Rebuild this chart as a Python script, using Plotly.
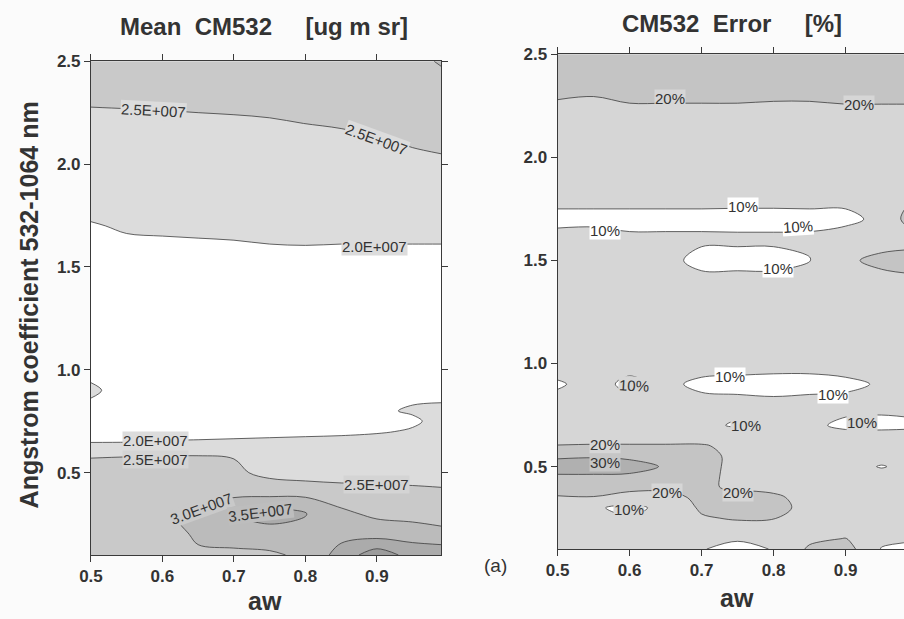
import numpy as np
import plotly.graph_objects as go

# ---------------- data: Mean CM532 [ug m sr] (values in units of 1E+007) ----------------
AW_MEAN = [0.50, 0.55, 0.60, 0.65, 0.70, 0.75, 0.80, 0.85, 0.90, 0.95, 0.99]
ALPHA_MEAN = [0.10, 0.20, 0.30, 0.40, 0.50, 0.60, 0.65, 0.70, 0.75, 0.80, 0.90, 1.00,
              1.25, 1.50, 1.60, 1.70, 1.80, 2.00, 2.10, 2.20, 2.30, 2.40, 2.50]
# one list per aw column, ordered by ALPHA_MEAN
mean_e7_cols = [
    [2.70, 2.72, 2.74, 2.70, 2.62, 2.45, 1.97, 1.90, 1.88, 1.95, 2.03, 1.95, 1.85, 1.90, 1.95, 1.98, 2.08, 2.25, 2.33, 2.40, 2.53, 2.60, 2.66],
    [2.72, 2.75, 2.80, 2.75, 2.63, 2.46, 1.98, 1.90, 1.88, 1.90, 1.93, 1.90, 1.85, 1.90, 1.95, 2.03, 2.10, 2.26, 2.34, 2.41, 2.54, 2.61, 2.67],
    [2.75, 2.85, 2.95, 2.82, 2.64, 2.46, 2.01, 1.92, 1.88, 1.90, 1.90, 1.90, 1.85, 1.91, 1.96, 2.04, 2.11, 2.27, 2.35, 2.42, 2.55, 2.62, 2.68],
    [2.95, 3.05, 3.10, 2.85, 2.64, 2.47, 2.02, 1.92, 1.88, 1.90, 1.90, 1.90, 1.85, 1.91, 1.96, 2.06, 2.12, 2.28, 2.36, 2.43, 2.57, 2.63, 2.69],
    [2.90, 3.20, 3.52, 2.86, 2.60, 2.45, 2.03, 1.93, 1.88, 1.90, 1.90, 1.90, 1.86, 1.92, 1.97, 2.07, 2.13, 2.29, 2.37, 2.44, 2.59, 2.65, 2.70],
    [2.92, 3.30, 3.70, 2.86, 2.36, 2.30, 2.04, 1.94, 1.89, 1.90, 1.90, 1.90, 1.86, 1.93, 1.99, 2.08, 2.14, 2.30, 2.38, 2.46, 2.62, 2.67, 2.72],
    [3.10, 3.30, 3.53, 2.87, 2.25, 2.28, 2.05, 1.95, 1.90, 1.90, 1.90, 1.90, 1.86, 1.93, 1.995, 2.10, 2.16, 2.32, 2.40, 2.505, 2.64, 2.70, 2.75],
    [3.70, 3.35, 3.10, 2.75, 2.25, 2.28, 2.06, 1.96, 1.90, 1.92, 1.90, 1.90, 1.86, 1.93, 1.99, 2.08, 2.16, 2.34, 2.42, 2.53, 2.66, 2.72, 2.78],
    [4.30, 3.30, 2.90, 2.70, 2.25, 2.28, 2.08, 1.98, 1.92, 1.97, 1.90, 1.90, 1.86, 1.93, 1.99, 2.08, 2.17, 2.37, 2.46, 2.58, 2.68, 2.75, 2.82],
    [3.80, 3.30, 2.80, 2.65, 2.25, 2.28, 2.10, 2.02, 1.97, 2.02, 1.95, 1.90, 1.86, 1.93, 1.99, 2.08, 2.18, 2.42, 2.52, 2.60, 2.70, 2.78, 2.85],
    [3.80, 3.20, 2.70, 2.60, 2.25, 2.28, 2.12, 2.10, 2.06, 2.04, 1.94, 1.90, 1.86, 1.93, 1.99, 2.08, 2.20, 2.45, 2.55, 2.63, 2.73, 2.85, 3.05],
]
MEAN_LEVELS = dict(start=2.0e7, end=4.0e7, size=0.5e7)

# ---------------- data: CM532 Error [%] ----------------
AW_ERR = [0.50, 0.55, 0.60, 0.65, 0.70, 0.75, 0.80, 0.85, 0.90, 0.95, 1.00]
ALPHA_ERR = [0.10, 0.15, 0.20, 0.25, 0.30, 0.35, 0.40, 0.45, 0.50, 0.55, 0.60, 0.65, 0.70,
             0.80, 0.90, 1.00, 1.15, 1.30, 1.40, 1.50, 1.60, 1.70, 1.80, 1.90,
             2.10, 2.20, 2.30, 2.40, 2.50]
err_cols = [
    [13, 13, 13, 12, 11, 19, 25, 29, 33, 29, 20.5, 15, 13, 13, 9, 14, 14, 14, 14, 14, 12, 8.5, 11.5, 13, 16, 18, 20.5, 22, 23],
    [13, 13, 13, 12, 11, 19.5, 25, 29, 33, 29.5, 21, 15, 13, 13, 13, 14, 14, 14, 14, 14, 12.5, 8.5, 11.5, 13, 16, 18, 20.1, 22, 23],
    [13, 12.5, 12, 10.5, 8, 16, 23, 29, 32, 29, 21, 15, 13, 13, 8, 13, 14, 14, 14, 13, 11, 8.5, 11.5, 13, 16, 18.3, 21, 22, 23],
    [13, 13, 13, 13, 12, 17, 22, 26, 29.5, 27, 21, 15, 13, 13, 12, 14, 14, 14, 14, 12, 11, 8.5, 11.5, 13, 16, 18.3, 21, 22, 23],
    [10.5, 12, 15, 19, 21.5, 22, 21, 24, 26, 25, 21, 15, 12, 13, 8, 14, 14, 14, 12, 8, 11, 8.5, 11.5, 13, 16, 18.3, 21, 22, 23],
    [7, 11, 16, 21, 24, 23, 19, 16, 15, 16, 17, 15, 9, 13, 7, 14, 14, 14, 12, 8, 11, 8.3, 11.5, 13, 16, 18.3, 21, 22, 23],
    [10.5, 12, 15, 20.5, 23, 22, 17, 15, 14, 14, 14, 13.5, 12, 12, 7, 13, 14, 14, 12, 8, 11, 8.3, 11.5, 13, 16, 18.2, 20.7, 22, 23],
    [21.5, 18, 15, 15, 17, 16, 14, 14, 14, 14, 14, 13.5, 12, 13, 7, 13, 14, 14, 13, 9.8, 11, 8.5, 11.5, 13, 16, 18.2, 20.7, 22, 23],
    [24, 20.3, 16, 14, 14, 14, 14, 14, 13, 14, 14, 13, 8, 13, 8, 14, 14, 14, 16, 18, 12, 9, 11, 13, 16, 18.6, 21, 22, 23],
    [9.5, 12, 13, 14, 14, 14, 14, 13, 9.5, 13, 14, 12.5, 8, 12, 11, 14, 14, 14, 16, 23, 15, 11, 12, 13, 16, 18.6, 21, 22, 23],
    [7, 11, 13, 14, 14, 14, 14, 13, 13, 14, 14, 12, 9, 12, 13, 14, 14, 14, 17, 26, 15, 28, 21, 13, 16, 18.6, 21, 22, 23],
]
ERR_LEVELS = dict(start=10, end=30, size=10)

XTICKS = [0.5, 0.6, 0.7, 0.8, 0.9]
YTICKS = [0.5, 1.0, 1.5, 2.0, 2.5]

# contour labels (text, aw, alpha, angle, background)
MEAN_LABELS = [
    ("2.5E+007", 0.588, 2.262, 3, "#dcdcdc"),
    ("2.5E+007", 0.900, 2.118, 20, "#dcdcdc"),
    ("2.0E+007", 0.896, 1.600, 0, "#dcdcdc"),
    ("2.0E+007", 0.590, 0.655, 0, "#dcdcdc"),
    ("2.5E+007", 0.590, 0.562, 0, "#d4d4d4"),
    ("2.5E+007", 0.900, 0.442, 0, "#d4d4d4"),
    ("3.0E+007", 0.655, 0.325, -20, "#c9c9c9"),
    ("3.5E+007", 0.737, 0.308, -7, "#bdbdbd"),
]
ERR_LABELS = [
    ("20%", 0.656, 2.284, 0, "#d6d6d6"),
    ("20%", 0.918, 2.257, 0, "#d6d6d6"),
    ("10%", 0.758, 1.762, 0, "#ffffff"),
    ("10%", 0.566, 1.646, 0, "#ffffff"),
    ("10%", 0.834, 1.665, -4, "#ffffff"),
    ("10%", 0.806, 1.462, 0, "#ffffff"),
    ("10%", 0.606, 0.893, 3, "#d6d6d6"),
    ("10%", 0.739, 0.938, 0, "#ffffff"),
    ("10%", 0.882, 0.852, 0, "#ffffff"),
    ("10%", 0.762, 0.698, 0, "#d6d6d6"),
    ("10%", 0.923, 0.716, 0, "#d6d6d6"),
    ("20%", 0.566, 0.607, 0, "#d6d6d6"),
    ("30%", 0.566, 0.520, 0, "#c6c6c6"),
    ("20%", 0.652, 0.372, 0, "#d6d6d6"),
    ("20%", 0.751, 0.372, 0, "#d6d6d6"),
    ("10%", 0.599, 0.293, 0, "#d6d6d6"),
]

FONT = "Liberation Sans, Arial, sans-serif"
INK = "#333333"
LABEL_SIZE = 15

z_mean = np.array(mean_e7_cols).T * 1e7
z_err = np.array(err_cols).T

fig = go.Figure()
fig.add_trace(go.Contour(
    x=AW_MEAN, y=ALPHA_MEAN, z=z_mean, xaxis="x", yaxis="y",
    contours=dict(coloring="fill", showlabels=False, **MEAN_LEVELS),
    colorscale=[[0.0, "#ffffff"], [0.2, "#dcdcdc"], [0.4, "#c9c9c9"],
                [0.6, "#bbbbbb"], [0.8, "#ababab"], [1.0, "#9c9c9c"]],
    line=dict(color="#3c3c3c", width=0.8, smoothing=1.0),
    showscale=False, hoverinfo="skip",
))
fig.add_trace(go.Contour(
    x=AW_ERR, y=ALPHA_ERR, z=z_err, xaxis="x2", yaxis="y2",
    contours=dict(coloring="fill", showlabels=False, **ERR_LEVELS),
    colorscale=[[0.0, "#ffffff"], [1 / 3, "#d6d6d6"], [2 / 3, "#c4c4c4"], [1.0, "#b0b0b0"]],
    line=dict(color="#3c3c3c", width=0.8, smoothing=1.0),
    showscale=False, hoverinfo="skip",
))

axis_common = dict(
    showline=True, linecolor="#3a3a3a", linewidth=1, ticks="outside", ticklen=6,
    tickcolor="#3a3a3a", showgrid=False, zeroline=False, tickformat=".1f",
    tickfont=dict(family=FONT, size=17, color=INK, weight="bold"),
)

annotations = []
for (t, x, y, a, bg) in MEAN_LABELS:
    annotations.append(dict(text=t, x=x, y=y, xref="x", yref="y", showarrow=False,
                            xanchor="center", yanchor="middle",
                            textangle=a, bgcolor=bg, borderpad=0,
                            font=dict(family=FONT, size=LABEL_SIZE, color=INK)))
for (t, x, y, a, bg) in ERR_LABELS:
    annotations.append(dict(text=t, x=x, y=y, xref="x2", yref="y2", showarrow=False,
                            xanchor="center", yanchor="middle",
                            textangle=a, bgcolor=bg, borderpad=0,
                            font=dict(family=FONT, size=LABEL_SIZE, color=INK)))

NB = "\u00a0"
page_text = [
    ("<b>Mean" + NB * 2 + "CM532" + NB * 5 + "[ug m sr]</b>", 255, 18, 0, 24),
    ("<b>CM532" + NB * 2 + "Error" + NB * 5 + "[%]</b>", 730, 15, 0, 24),
    ("<b>Angstrom coefficient 532-1064 nm</b>", 17, 300, -90, 25),
    ("<b>aw</b>", 256, 601, 0, 25),
    ("<b>aw</b>", 735, 598, 0, 25),
    ("(a)", 490, 565, 0, 19),
]
for (t, px, py, a, s) in page_text:
    annotations.append(dict(text=t, x=px / 904, y=1 - py / 619, xref="paper", yref="paper",
                            xanchor="center", yanchor="middle", showarrow=False, textangle=a,
                            font=dict(family=FONT, size=s, color=INK)))

fig.update_layout(
    width=904, height=619, margin=dict(l=0, r=0, t=0, b=0),
    paper_bgcolor="#fbfbfb", plot_bgcolor="#ffffff", showlegend=False,
    xaxis=dict(domain=[80 / 904, 435 / 904], range=[0.5, 0.99], tickvals=XTICKS, anchor="y",
               mirror="ticks", **axis_common),
    yaxis=dict(domain=[1 - 554 / 619, 1 - 53 / 619], range=[0.1, 2.5], tickvals=YTICKS, anchor="x",
               mirror="ticks", **axis_common),
    xaxis2=dict(domain=[553 / 904, 1.0], range=[0.5, 0.981], tickvals=XTICKS, anchor="y2",
                mirror="ticks", **axis_common),
    yaxis2=dict(domain=[1 - 548 / 619, 1 - 46 / 619], range=[0.1, 2.5], tickvals=YTICKS, anchor="x2",
                **axis_common),
    annotations=annotations,
)

fig.write_html("out.html")
